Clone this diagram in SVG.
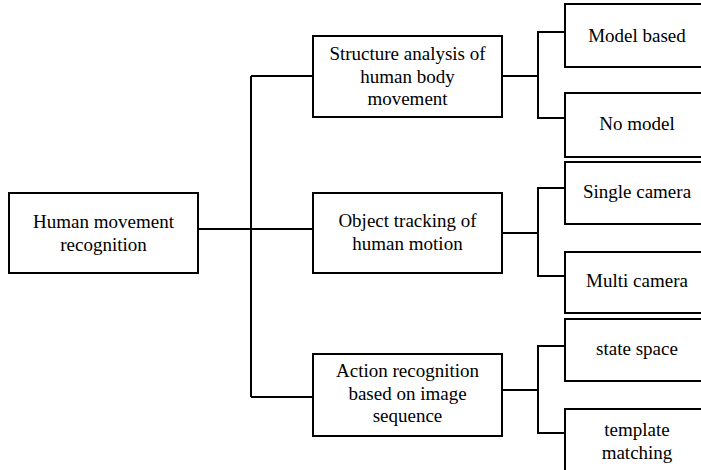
<svg xmlns="http://www.w3.org/2000/svg" width="701" height="470" viewBox="0 0 701 470">
<style>
rect.box{fill:#fff;stroke:#000;stroke-width:2}
.conn path{fill:none;stroke:#000;stroke-width:2}
</style>
<rect width="701" height="470" fill="#fff"/>
<g id="connectors" class="conn">
<path d="M198 229H313"/>
<path d="M251 76V397"/>
<path d="M251 76H313"/>
<path d="M251 397H313"/>
<path d="M502 76H538M565 32H538V118H565"/>
<path d="M502 233H538M565 188H538V276H565"/>
<path d="M502 390H538M565 346H538V433H565"/>
</g>
<g font-family="Liberation Serif" font-size="19" fill="#000" text-anchor="middle">
<g id="root"><rect class="box" x="9" y="193" width="189" height="80"/><text x="103.5" y="228">Human movement</text><text x="103.5" y="250.5">recognition</text></g>
<g id="structure"><rect class="box" x="313" y="36" width="189" height="81"/><text x="407.5" y="60">Structure analysis of</text><text x="407.5" y="82.5">human body</text><text x="407.5" y="105">movement</text></g>
<g id="tracking"><rect class="box" x="313" y="193" width="189" height="80"/><text x="407.5" y="227">Object tracking of</text><text x="407.5" y="249.5">human motion</text></g>
<g id="action"><rect class="box" x="313" y="354" width="189" height="82"/><text x="407.5" y="377">Action recognition</text><text x="407.5" y="399.5">based on image</text><text x="407.5" y="422">sequence</text></g>
<g id="model-based"><rect class="box" x="565" y="4" width="145" height="63"/><text x="637" y="42">Model based</text></g>
<g id="no-model"><rect class="box" x="565" y="93" width="145" height="64"/><text x="637" y="130">No model</text></g>
<g id="single-camera"><rect class="box" x="565" y="162" width="145" height="62"/><text x="637" y="198">Single camera</text></g>
<g id="multi-camera"><rect class="box" x="565" y="252" width="145" height="61"/><text x="637" y="287">Multi camera</text></g>
<g id="state-space"><rect class="box" x="565" y="319" width="145" height="62"/><text x="637" y="355">state space</text></g>
<g id="template-matching"><rect class="box" x="565" y="409" width="145" height="80"/><text x="637" y="436">template</text><text x="637" y="458.5">matching</text></g>
</g>
</svg>
